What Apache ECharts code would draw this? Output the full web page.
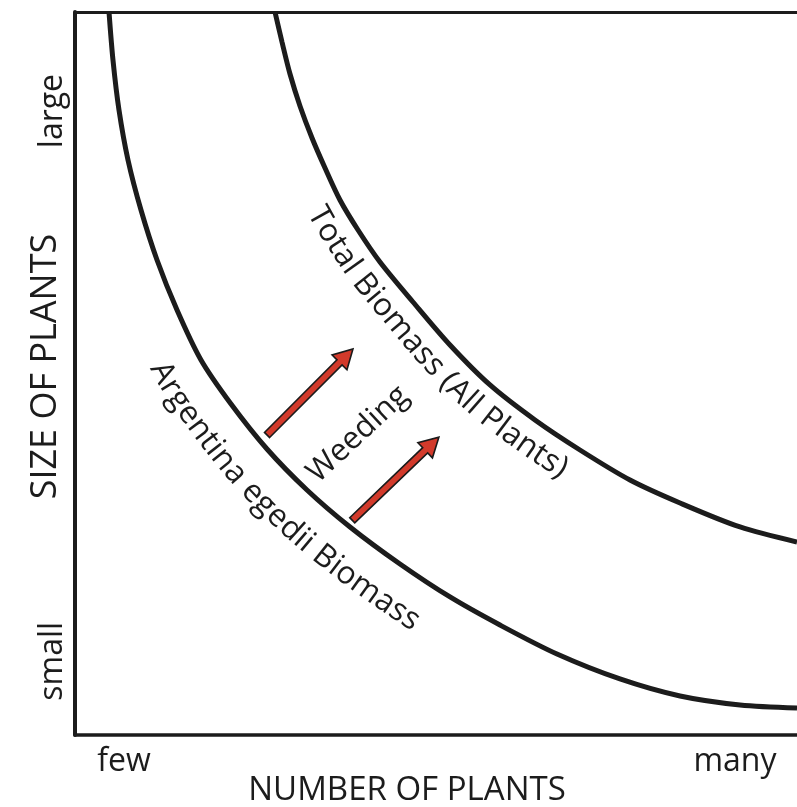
<!DOCTYPE html>
<html>
<head>
<meta charset="utf-8">
<script src="https://cdn.jsdelivr.net/npm/echarts@6/dist/echarts.min.js"></script>
<style>
  html, body { margin: 0; padding: 0; background: #fff; }
  #chart { width: 797px; height: 807px; }
</style>
</head>
<body>
<div id="chart"></div>
<script>
// ---- data (abstract units: 0..100 on each axis) ----
const xTickValues = [6.8, 91.4];
const xTickLabels = ['few', 'many'];
const yTickValues = [10.2, 86.3];
const yTickLabels = ['small', 'large'];

const argentinaBiomass = [
  [4.71, 100], [5.26, 93.36], [6.09, 86.45], [7.34, 79.53], [9.14, 72.61], [11.36, 65.70],
  [14.13, 58.78], [17.45, 51.87], [21.61, 45.78], [26.59, 39.56], [32.13, 33.89],
  [38.09, 28.77], [45.01, 23.65], [51.94, 19.09], [58.86, 15.21], [66.76, 11.20],
  [75.48, 7.75], [83.80, 5.39], [92.11, 4.15], [100, 3.73]
];
const totalBiomass = [
  [27.70, 100], [28.67, 95.85], [29.78, 91.42], [31.16, 87.00], [32.83, 82.57],
  [34.63, 78.42], [36.70, 74.00], [39.20, 69.85], [42.24, 65.42], [46.81, 59.89],
  [51.94, 53.94], [57.48, 48.41], [63.71, 43.57], [69.94, 39.42], [76.87, 35.27],
  [83.80, 32.09], [92.11, 28.77], [100, 26.69]
];
// arrows: [tailX, tailY, tipX, tipY]
const weedingArrows = [
  [26.6, 41.5, 38.5, 53.4],
  [38.4, 29.7, 50.4, 41.2]
];
// curve labels (text follows its curve): text, curve, x of the label centre on the curve
const curveLabelTexts = ['Total Biomass (All Plants)', 'Argentina egedii Biomass'];
const curveLabelCurves = [totalBiomass, argentinaBiomass];
const curveLabelAnchorX = [51.1, 31.0];
// straight label: [x, y, angleDeg, text]
const straightLabels = [
  [39.2, 41.6, 43, 'Weeding']
];

const FONT = '"Open Sans", "Noto Sans", sans-serif';
const INK = '#1c1c1c';
const LABEL_FONT = '31.5px ' + FONT;
const LABEL_OFFSETS = [26, 40];   // px distance of text centre line below its curve

const measureCtx = document.createElement('canvas').getContext('2d');
measureCtx.font = LABEL_FONT;

function catmull(pts, steps) {
  const out = [];
  const n = pts.length;
  for (let i = 0; i < n - 1; i++) {
    const p0 = pts[Math.max(i - 1, 0)], p1 = pts[i], p2 = pts[i + 1], p3 = pts[Math.min(i + 2, n - 1)];
    for (let k = 0; k < steps; k++) {
      const t = k / steps, t2 = t * t, t3 = t2 * t;
      const f = (a, b, c, d) => 0.5 * ((2 * b) + (-a + c) * t + (2 * a - 5 * b + 4 * c - d) * t2 + (-a + 3 * b - 3 * c + d) * t3);
      out.push([f(p0[0], p1[0], p2[0], p3[0]), f(p0[1], p1[1], p2[1], p3[1])]);
    }
  }
  out.push(pts[n - 1].slice());
  return out;
}

function renderCurveLabel(params, api) {
  const idx = params.dataIndex;
  const curve = curveLabelCurves[idx].map(p => api.coord(p));
  const P = catmull(curve, 24);
  const d = LABEL_OFFSETS[idx];
  const Q = P.map((p, i) => {
    const a = P[Math.max(i - 1, 0)], b = P[Math.min(i + 1, P.length - 1)];
    let tx = b[0] - a[0], ty = b[1] - a[1];
    const L = Math.hypot(tx, ty) || 1; tx /= L; ty /= L;
    return [p[0] - ty * d, p[1] + tx * d];
  });
  const cum = [0];
  for (let i = 1; i < Q.length; i++) cum.push(cum[i - 1] + Math.hypot(Q[i][0] - Q[i - 1][0], Q[i][1] - Q[i - 1][1]));
  const ax = api.coord([api.value(0), 0])[0];
  let ai = 0, best = Infinity;
  P.forEach((p, i) => { const e = Math.abs(p[0] - ax); if (e < best) { best = e; ai = i; } });
  const text = curveLabelTexts[idx];
  const total = measureCtx.measureText(text).width;
  let s = cum[ai] - total / 2;
  const children = [];
  for (const ch of text) {
    const w = measureCtx.measureText(ch).width;
    const sc = s + w / 2;
    let j = 1;
    while (j < cum.length - 1 && cum[j] < sc) j++;
    const seg = cum[j] - cum[j - 1] || 1;
    const u = (sc - cum[j - 1]) / seg;
    const x = Q[j - 1][0] + (Q[j][0] - Q[j - 1][0]) * u;
    const y = Q[j - 1][1] + (Q[j][1] - Q[j - 1][1]) * u;
    const j0 = Math.max(j - 3, 0), j1 = Math.min(j + 2, Q.length - 1);
    const ang = Math.atan2(Q[j1][1] - Q[j0][1], Q[j1][0] - Q[j0][0]);
    if (ch !== ' ') {
      children.push({
        type: 'text', x: x, y: y, rotation: -ang,
        style: { text: ch, font: LABEL_FONT, fill: INK, align: 'center', verticalAlign: 'middle' }
      });
    }
    s += w;
  }
  return { type: 'group', children: children };
}

const chart = echarts.init(document.getElementById('chart'), null, { renderer: 'canvas' });

const option = {
  animation: false,
  backgroundColor: '#fff',
  grid: { left: 75, top: 12, right: 0, bottom: 72, containLabel: false, outerBoundsMode: 'none' },
  xAxis: [{
    type: 'value', min: 0, max: 100, position: 'bottom',
    name: 'NUMBER OF PLANTS', nameLocation: 'middle', nameGap: 39, nameMoveOverlap: false,
    nameTextStyle: { fontFamily: FONT, fontSize: 33, color: INK, padding: [0, 58, 0, 0] },
    axisLine: { show: true, lineStyle: { color: INK, width: 3.5 } },
    axisTick: { show: false },
    splitLine: { show: false },
    axisLabel: {
      customValues: xTickValues,
      formatter: (v) => xTickLabels[xTickValues.indexOf(v)] ?? '',
      fontFamily: FONT, fontSize: 32, color: INK, margin: 11
    }
  }, {
    type: 'value', min: 0, max: 100, position: 'top',
    axisLine: { show: true, lineStyle: { color: INK, width: 3 } },
    axisTick: { show: false }, axisLabel: { show: false }, splitLine: { show: false }
  }],
  yAxis: {
    type: 'value', min: 0, max: 100,
    name: 'SIZE OF PLANTS', nameLocation: 'middle', nameGap: 11, nameMoveOverlap: false,
    nameTextStyle: { fontFamily: FONT, fontSize: 36, color: INK, padding: [0, 0, 0, 14] },
    axisLine: { show: true, lineStyle: { color: INK, width: 4 } },
    axisTick: { show: false },
    splitLine: { show: false },
    axisLabel: {
      customValues: yTickValues,
      formatter: (v) => yTickLabels[yTickValues.indexOf(v)] ?? '',
      rotate: 90,
      fontFamily: FONT, fontSize: 32, color: INK, margin: 6
    }
  },
  series: [
    {
      name: 'Argentina egedii Biomass', type: 'line', data: argentinaBiomass,
      smooth: 0.3, showSymbol: false, symbol: 'none',
      lineStyle: { color: INK, width: 5 }
    },
    {
      name: 'Total Biomass (All Plants)', type: 'line', data: totalBiomass,
      smooth: 0.3, showSymbol: false, symbol: 'none',
      lineStyle: { color: INK, width: 5 }
    },
    {
      name: 'Weeding', type: 'custom', data: weedingArrows,
      renderItem: function (params, api) {
        const p1 = api.coord([api.value(0), api.value(1)]);
        const p2 = api.coord([api.value(2), api.value(3)]);
        const dx = p2[0] - p1[0], dy = p2[1] - p1[1];
        const len = Math.sqrt(dx * dx + dy * dy);
        const ux = dx / len, uy = dy / len;
        const nx = -uy, ny = ux;
        const sw = 3.6, hw = 10.5, hl = 19;
        const bx = p2[0] - ux * hl, by = p2[1] - uy * hl;
        const pts = [
          [p1[0] + nx * sw, p1[1] + ny * sw],
          [bx + nx * sw, by + ny * sw],
          [bx + nx * hw, by + ny * hw],
          [p2[0], p2[1]],
          [bx - nx * hw, by - ny * hw],
          [bx - nx * sw, by - ny * sw],
          [p1[0] - nx * sw, p1[1] - ny * sw]
        ];
        return {
          type: 'polygon',
          shape: { points: pts },
          style: { fill: '#d23a2b', stroke: '#1a1a1a', lineWidth: 1.6, lineJoin: 'miter' }
        };
      }
    },
    {
      name: 'curveLabels', type: 'custom', clip: false,
      data: curveLabelAnchorX.map(x => [x, 0]),
      renderItem: renderCurveLabel
    },
    {
      name: 'labels', type: 'custom', data: straightLabels.map(a => [a[0], a[1], a[2]]),
      renderItem: function (params, api) {
        const p = api.coord([api.value(0), api.value(1)]);
        return {
          type: 'text',
          x: p[0], y: p[1],
          rotation: api.value(2) * Math.PI / 180,
          style: {
            text: straightLabels[params.dataIndex][3],
            font: '31px ' + FONT,
            fill: INK,
            align: 'center',
            verticalAlign: 'middle'
          }
        };
      }
    }
  ]
};
chart.setOption(option);
</script>
</body>
</html>
